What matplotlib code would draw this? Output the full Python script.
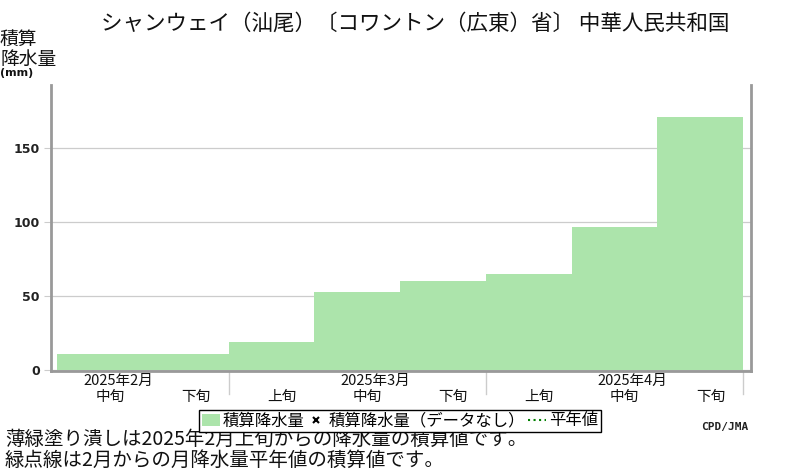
import numpy as np
import matplotlib
matplotlib.use('Agg')
import matplotlib.pyplot as plt
from matplotlib.transforms import blended_transform_factory
from matplotlib.patches import Patch
from matplotlib.lines import Line2D
from matplotlib.font_manager import FontProperties

# ---- data ----
title = "シャンウェイ（汕尾）〔コワントン（広東）省〕 中華人民共和国"
dekad_labels = ["中旬", "下旬", "上旬", "中旬", "下旬", "上旬", "中旬", "下旬"]
month_labels = ["2025年2月", "2025年3月", "2025年4月"]
month_label_dekad = [0, 3, 6]
month_bounds = [2, 5, 8]
cum_precip = [11.0, 11.0, 19.3, 52.9, 60.3, 65.2, 96.8, 171.3]
yticks = [0, 50, 100, 150]
legend_labels = ["積算降水量", "積算降水量（データなし）", "平年値"]
ylabel_lines = ["積算", "降水量"]
ylabel_unit = "(mm)"
notes = ["薄緑塗り潰しは2025年2月上旬からの降水量の積算値です。",
         "緑点線は2月からの月降水量平年値の積算値です。"]
credit = "CPD/JMA"

JP = ['Noto Sans CJK JP', 'DejaVu Sans']
plt.rcParams['font.family'] = JP

W, H = 800, 470
bar_color = '#ace4ab'
spine_color = '#999999'
grid_color = '#cccccc'

fig = plt.figure(figsize=(W / 100, H / 100), dpi=100)
ax = fig.add_axes([51 / W, 1 - 371 / H, (750.5 - 51) / W, (371 - 85) / H])

x = np.arange(len(cum_precip))
ax.bar(x, cum_precip, width=1.0, align='edge', color=bar_color, linewidth=0, zorder=2)

ax.set_xlim(-0.07, 8.087)
ax.set_ylim(-0.47, 192.8)
ax.set_xticks([])
ax.set_yticks(yticks)
ax.yaxis.grid(True, color=grid_color, linewidth=0.9)
ax.set_axisbelow(True)
ax.tick_params(axis='y', length=5, width=0.8, color=grid_color, pad=3,
               labelsize=9, labelcolor='#222222')
for lbl in ax.get_yticklabels():
    lbl.set_fontweight('bold')
    lbl.set_family('DejaVu Sans')

for s in ['left', 'right', 'bottom']:
    ax.spines[s].set_color(spine_color)
    ax.spines[s].set_linewidth(2.0)
ax.spines['top'].set_visible(False)

trans = blended_transform_factory(ax.transData, fig.transFigure)
for b in month_bounds:
    ax.add_line(Line2D([b, b], [1 - 372 / H, 1 - 394 / H], transform=trans,
                       color=grid_color, linewidth=1.0, clip_on=False))

for i, lab in enumerate(dekad_labels):
    fig.text(i + 0.62, 1 - 397 / H, lab, transform=trans, ha='center', va='center',
             fontsize=10.5, color='#111111')
for m, lab in zip(month_label_dekad, month_labels):
    fig.text(m + 0.71, 1 - 381 / H, lab, transform=trans, ha='center', va='center',
             fontsize=10.5, color='#111111')

fig.text(415 / W, 1 - 24 / H, title, ha='center', va='center', fontsize=15.5, color='#111111')

fig.text(0, 1 - 39 / H, ylabel_lines[0], ha='left', va='center', fontsize=13.5, color='#111111')
fig.text(0, 1 - 59 / H, ylabel_lines[1], ha='left', va='center', fontsize=13.5, color='#111111')
fig.text(0, 1 - 73 / H, ylabel_unit, ha='left', va='center', fontsize=8,
         fontweight='bold', family='DejaVu Sans', color='#111111')

handles = [Patch(facecolor=bar_color, edgecolor='none'),
           Line2D([], [], marker='x', linestyle='none', color='black', markersize=4, markeredgewidth=1.5),
           Line2D([], [], linestyle=':', color='#008000', linewidth=1.5)]
leg = fig.legend(handles=handles, labels=legend_labels, ncol=3, loc='center',
                 bbox_to_anchor=(400 / W, 1 - 421 / H), frameon=True, fancybox=False,
                 edgecolor='black', framealpha=1, borderpad=0.15, handlelength=1.1,
                 handletextpad=0.2, columnspacing=0.15, borderaxespad=0,
                 prop=FontProperties(family=JP, size=11.8))
leg.get_frame().set_linewidth(1.0)

fig.text(748 / W, 1 - 427 / H, credit, ha='right', va='center', fontsize=8,
         fontweight='bold', family='DejaVu Sans Mono', color='#222222')

fig.text(5 / W, 1 - 450 / H, "\n".join(notes), ha='left', va='center', fontsize=14,
         linespacing=0.97, color='#111111')

fig.savefig('out.png', dpi=100, facecolor='white')
